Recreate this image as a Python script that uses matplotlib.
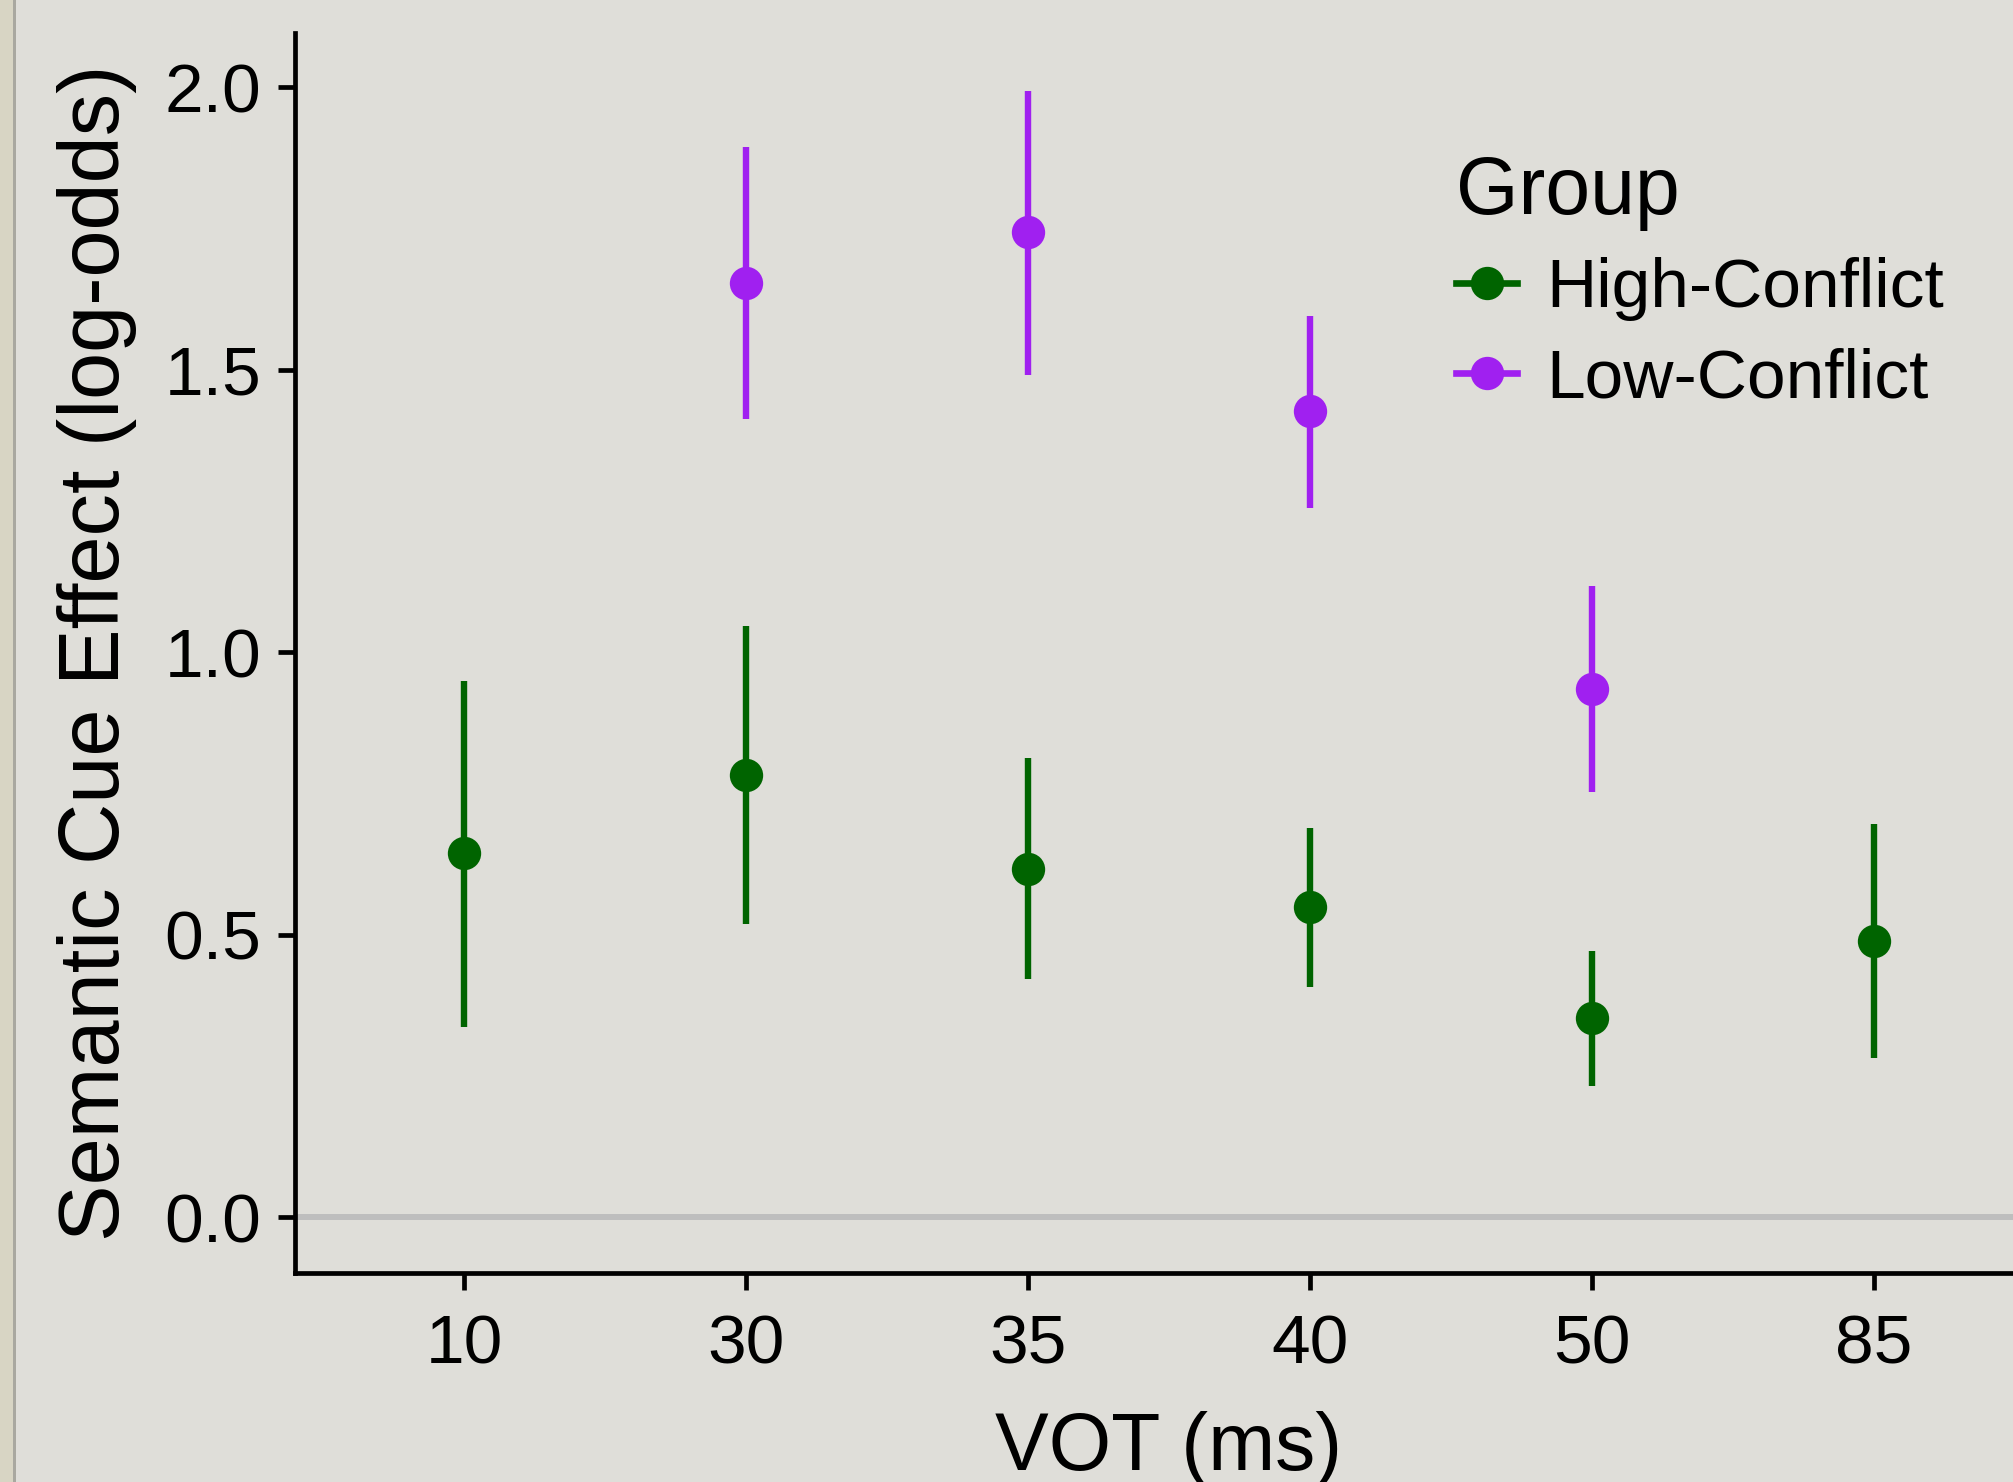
import matplotlib
matplotlib.use("Agg")
import matplotlib.pyplot as plt
from matplotlib.lines import Line2D
from matplotlib.patches import Rectangle
import numpy as np

plt.rcParams["font.family"] = ["Liberation Sans", "DejaVu Sans"]

# data
vot_labels = ["10", "30", "35", "40", "50", "85"]

high_vot = ["10", "30", "35", "40", "50", "85"]
high_est = [0.644, 0.783, 0.617, 0.548, 0.353, 0.489]
high_lo = [0.337, 0.519, 0.421, 0.407, 0.232, 0.282]
high_hi = [0.949, 1.047, 0.812, 0.689, 0.471, 0.696]

low_vot = ["30", "35", "40", "50"]
low_est = [1.654, 1.743, 1.427, 0.935]
low_lo = [1.413, 1.490, 1.256, 0.753]
low_hi = [1.895, 1.993, 1.595, 1.117]

groups = ["High-Conflict", "Low-Conflict"]
colors = {"High-Conflict": "#006400", "Low-Conflict": "#A020F0"}

BG = "#DFDED9"
W, H = 2013, 1482

fig = plt.figure(figsize=(W / 100, H / 100), dpi=100, facecolor=BG)
# left window strip
fig.patches.append(Rectangle((0, 0), 13 / W, 1, transform=fig.transFigure,
                             facecolor="#D8D5C4", edgecolor="none", zorder=0))
fig.patches.append(Rectangle((13 / W, 0), 3 / W, 1, transform=fig.transFigure,
                             facecolor="#A9A8A0", edgecolor="none", zorder=0))

left, right, top, bottom = 295, 2043, 33, 1273
ax = fig.add_axes([left / W, 1 - bottom / H, (right - left) / W, (bottom - top) / H])
ax.set_facecolor(BG)

pos = {v: i + 1 for i, v in enumerate(vot_labels)}

ax.axhline(0, color="#BEBEBE", lw=4.3, zorder=1)


def pointrange(xs, est, lo, hi, color):
    x = [pos[v] for v in xs]
    ax.vlines(x, lo, hi, color=color, lw=4.6, zorder=2)
    ax.plot(x, est, "o", color=color, ms=24, mew=0, zorder=3)


pointrange(high_vot, high_est, high_lo, high_hi, colors["High-Conflict"])
pointrange(low_vot, low_est, low_lo, low_hi, colors["Low-Conflict"])

ax.set_xlim(0.4, 6.6)
ax.set_ylim(-0.099, 2.096)
ax.set_xticks(range(1, len(vot_labels) + 1))
ax.set_xticklabels(vot_labels)
ax.set_yticks([0.0, 0.5, 1.0, 1.5, 2.0])
ax.set_yticklabels(["0.0", "0.5", "1.0", "1.5", "2.0"])

for s in ["top", "right"]:
    ax.spines[s].set_visible(False)
for s in ["left", "bottom"]:
    ax.spines[s].set_linewidth(3.4)
    ax.spines[s].set_color("black")
    ax.spines[s].set_capstyle("projecting")

ax.tick_params(axis="both", length=12.2, width=3.4, color="black",
               labelsize=50, labelcolor="black")
ax.tick_params(axis="y", pad=12)
ax.tick_params(axis="x", pad=17)

ax.set_xlabel("VOT (ms)", fontsize=58, labelpad=24)
ax.set_ylabel("Semantic Cue Effect (log-odds)", fontsize=61, labelpad=20)

handles = [Line2D([], [], color=colors[g], lw=4.8, marker="o", ms=24, mew=0)
           for g in groups]
leg = ax.legend(handles, groups, title="Group", loc="upper left",
                bbox_to_anchor=(1456 / W, 1 - 155 / H), bbox_transform=fig.transFigure,
                frameon=False, fontsize=50, title_fontsize=58,
                handlelength=0.88, handletextpad=0.42, labelspacing=0.38,
                borderpad=0, borderaxespad=0, alignment="left")

fig.savefig("out.png", dpi=100, facecolor=BG)
